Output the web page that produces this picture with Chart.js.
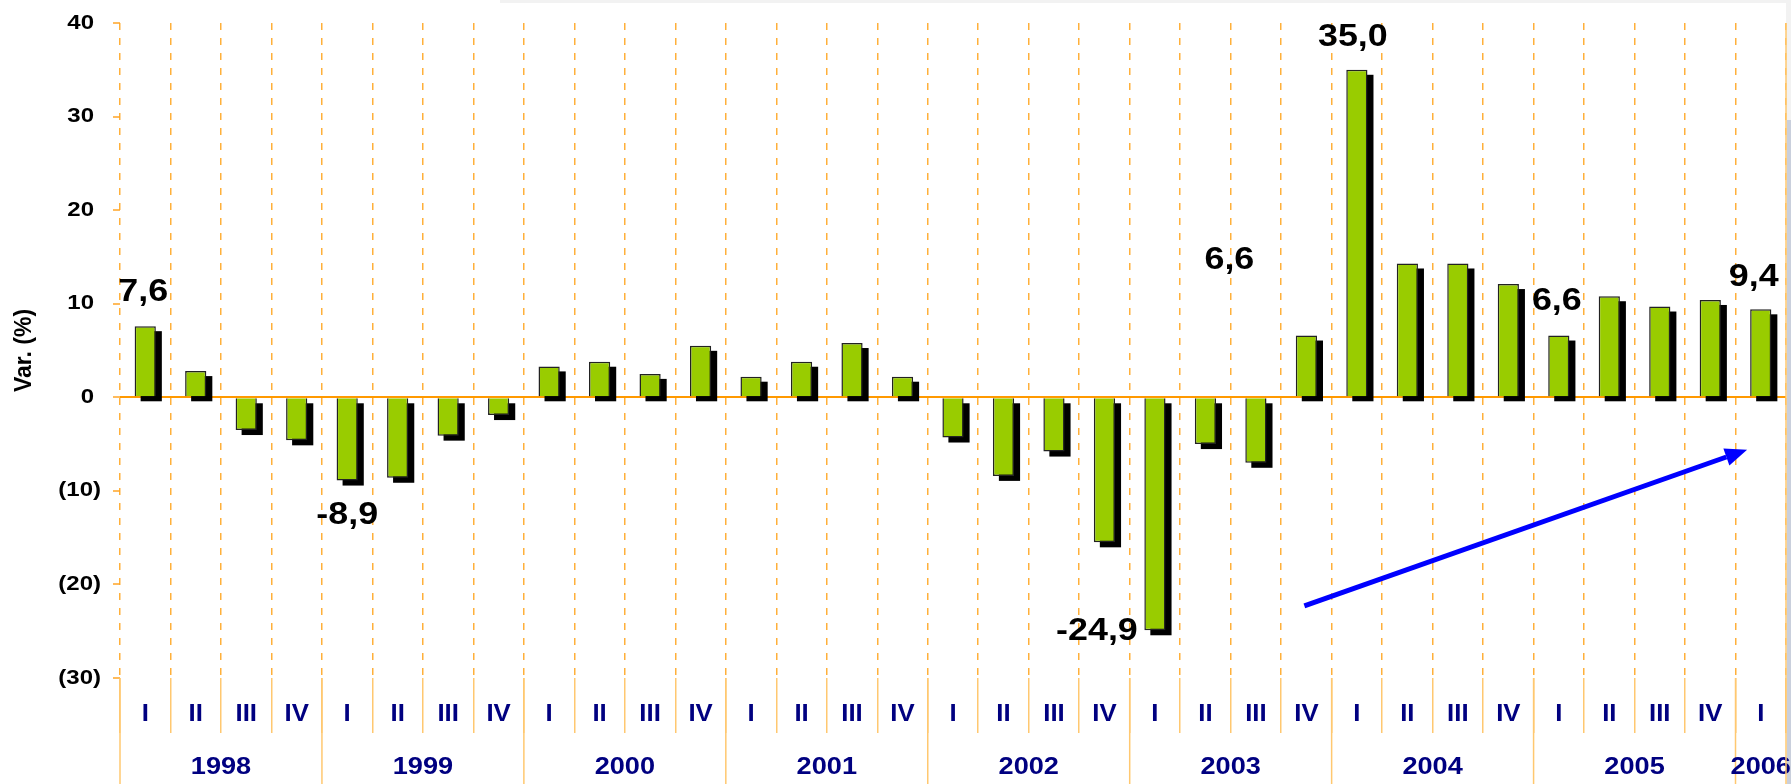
<!DOCTYPE html>
<html>
<head>
<meta charset="utf-8">
<script src="https://cdn.jsdelivr.net/npm/chart.js@4.4.0/dist/chart.umd.min.js"></script>
<style>
  html, body { margin: 0; padding: 0; background: #f2f2f2; }
  canvas { display: block; }
</style>
</head>
<body>
<canvas id="varChart" width="1791" height="784"></canvas>
<script>
// quarterly variation (%), 1998 I .. 2006 I
const years = ['1998', '1999', '2000', '2001', '2002', '2003', '2004', '2005', '2006'];
const quarters = ['I', 'II', 'III', 'IV'];
const values = [
  7.6, 2.8, -3.5, -4.6,
  -8.9, -8.6, -4.1, -1.9,
  3.3, 3.8, 2.5, 5.5,
  2.2, 3.8, 5.8, 2.2,
  -4.3, -8.4, -5.8, -15.5,
  -24.9, -5.0, -7.0, 6.6,
  35.0, 14.3, 14.3, 12.1,
  6.6, 10.8, 9.7, 10.4,
  9.4
];
const yTicks = [40, 30, 20, 10, 0, -10, -20, -30];

// which bars carry a value label, and where the label sits relative to the bar end
const labelIdx = [0, 4, 20, 23, 24, 28, 32];
const labelDx = [-2, 0, -58, -77, -4, -2, -7];
const labelDy = [-34, 35, 1, -75, -33, -34, -32];

// trend arrow, in (category index, value) units
const arrowFrom = [22.96, -22.3];
const arrowTo = [31.73, -5.6];

const FONT = '"Liberation Sans", Arial, sans-serif';
const NAVY = '#000080';
const GRID = '#FFB03A';
const SOLID = '#FFC870';

const labels = values.map((v, i) => years[Math.floor(i / 4)] + ' ' + quarters[i % 4]);

// the original text is a bit wider than plain Arial, so stretch it horizontally
function wideText(ctx, txt, x, y, align, stretch) {
  ctx.save();
  ctx.translate(x, y);
  ctx.scale(stretch, 1);
  ctx.textAlign = align;
  ctx.textBaseline = 'middle';
  ctx.fillText(txt, 0, 0);
  ctx.restore();
}

const backgroundPlugin = {
  id: 'background',
  beforeDraw(chart) {
    const ctx = chart.ctx;
    ctx.save();
    ctx.fillStyle = '#f2f2f2';
    ctx.fillRect(0, 0, chart.width, chart.height);
    ctx.fillStyle = '#ffffff';
    ctx.fillRect(0, 3, chart.chartArea.right, chart.height - 3);
    ctx.fillRect(0, 0, 500, 3);
    ctx.fillStyle = '#c9cfdc';
    ctx.fillRect(chart.chartArea.right + 1, 120, chart.width - chart.chartArea.right, chart.height - 120);
    ctx.restore();
  }
};

const shadowPlugin = {
  id: 'barShadow',
  beforeDatasetDraw(chart, args) {
    const ctx = chart.ctx;
    ctx.save();
    ctx.fillStyle = '#000000';
    args.meta.data.forEach(bar => {
      const p = bar.getProps(['x', 'y', 'base', 'width'], true);
      const top = Math.min(p.y, p.base);
      const h = Math.abs(p.base - p.y);
      ctx.fillRect(p.x - p.width / 2 + 6, top + 5, p.width, h);
    });
    ctx.restore();
  }
};

const decoPlugin = {
  id: 'deco',
  afterDatasetsDraw(chart) {
    const ctx = chart.ctx;
    const x = chart.scales.x;
    const y = chart.scales.y;
    const area = chart.chartArea;
    const meta = chart.getDatasetMeta(0);

    // y tick labels, negatives in brackets
    ctx.save();
    ctx.fillStyle = '#000000';
    ctx.font = 'bold 20px ' + FONT;
    y.ticks.forEach(t => {
      const py = y.getPixelForValue(t.value);
      if (t.value < 0) wideText(ctx, '(' + (-t.value) + ')', 101, py, 'right', 1.2);
      else wideText(ctx, String(t.value), 94, py, 'right', 1.2);
    });
    ctx.restore();

    // quarter labels
    ctx.save();
    ctx.fillStyle = NAVY;
    ctx.font = 'bold 23px ' + FONT;
    x.ticks.forEach((t, i) => {
      wideText(ctx, quarters[i % 4], x.getPixelForTick(i), 715, 'center', 1.12);
    });
    ctx.restore();

    // year separators + year labels
    ctx.save();
    ctx.strokeStyle = SOLID;
    ctx.lineWidth = 1.5;
    ctx.fillStyle = NAVY;
    ctx.font = 'bold 23px ' + FONT;
    const half = (x.getPixelForValue(1) - x.getPixelForValue(0)) / 2;
    years.forEach((yr, k) => {
      const first = 4 * k;
      const last = Math.min(4 * k + 3, values.length - 1);
      const sx = x.getPixelForValue(first) - half;
      ctx.beginPath();
      ctx.moveTo(sx, area.bottom);
      ctx.lineTo(sx, chart.height);
      ctx.stroke();
      wideText(ctx, yr, (x.getPixelForValue(first) + x.getPixelForValue(last)) / 2, 768, 'center', 1.18);
    });
    ctx.beginPath();
    ctx.moveTo(area.right, area.top);
    ctx.lineTo(area.right, chart.height);
    ctx.stroke();
    ctx.restore();

    // value labels
    ctx.save();
    ctx.fillStyle = '#000000';
    ctx.font = 'bold 32px ' + FONT;
    labelIdx.forEach((i, n) => {
      const bar = meta.data[i];
      const txt = values[i].toFixed(1).replace('.', ',');
      wideText(ctx, txt, bar.x + labelDx[n], bar.y + labelDy[n], 'center', 1.12);
    });
    ctx.restore();

    // trend arrow
    const x0 = x.getPixelForValue(arrowFrom[0]), y0 = y.getPixelForValue(arrowFrom[1]);
    const x1 = x.getPixelForValue(arrowTo[0]), y1 = y.getPixelForValue(arrowTo[1]);
    const ang = Math.atan2(y1 - y0, x1 - x0);
    const headLen = 22, headHalf = 9;
    const bx = x1 - headLen * Math.cos(ang), by = y1 - headLen * Math.sin(ang);
    ctx.save();
    ctx.strokeStyle = '#0000FF';
    ctx.fillStyle = '#0000FF';
    ctx.lineWidth = 5;
    ctx.beginPath();
    ctx.moveTo(x0, y0);
    ctx.lineTo(bx, by);
    ctx.stroke();
    ctx.beginPath();
    ctx.moveTo(x1, y1);
    ctx.lineTo(bx + headHalf * Math.sin(ang), by - headHalf * Math.cos(ang));
    ctx.lineTo(bx - headHalf * Math.sin(ang), by + headHalf * Math.cos(ang));
    ctx.closePath();
    ctx.fill();
    ctx.restore();
  }
};

new Chart(document.getElementById('varChart'), {
  type: 'bar',
  data: {
    labels: labels,
    datasets: [{
      data: values,
      backgroundColor: '#99CC00',
      borderColor: '#222222',
      borderWidth: 1.5,
      barPercentage: 0.42,
      categoryPercentage: 1
    }]
  },
  options: {
    responsive: false,
    devicePixelRatio: 1,
    animation: false,
    layout: { padding: { left: 0, right: 5, top: 23, bottom: 0 } },
    plugins: {
      legend: { display: false },
      tooltip: { enabled: false }
    },
    scales: {
      x: {
        grid: {
          offset: true,
          color: GRID,
          lineWidth: 1.5,
          tickLength: 55,
          tickColor: SOLID,
          tickWidth: 1.5,
          tickBorderDash: []
        },
        border: { display: false, dash: [7, 8] },
        ticks: { display: false, autoSkip: false },
        afterFit: s => { s.height = 106; }
      },
      y: {
        min: -30,
        max: 40,
        z: 1,
        afterBuildTicks: s => { s.ticks = yTicks.map(v => ({ value: v })); },
        ticks: { display: false },
        grid: {
          color: c => c.tick && c.tick.value === 0 ? '#FF9900' : 'rgba(0,0,0,0)',
          lineWidth: 2,
          tickLength: 7,
          tickColor: '#FFA526',
          tickWidth: 1.5
        },
        border: { display: false },
        title: {
          display: true,
          text: 'Var. (%)',
          color: '#000000',
          font: { family: FONT, size: 23, weight: 'bold' },
          padding: { top: 11, bottom: 0 }
        },
        afterFit: s => { s.width = 120; }
      }
    }
  },
  plugins: [backgroundPlugin, shadowPlugin, decoPlugin]
});
</script>
</body>
</html>
